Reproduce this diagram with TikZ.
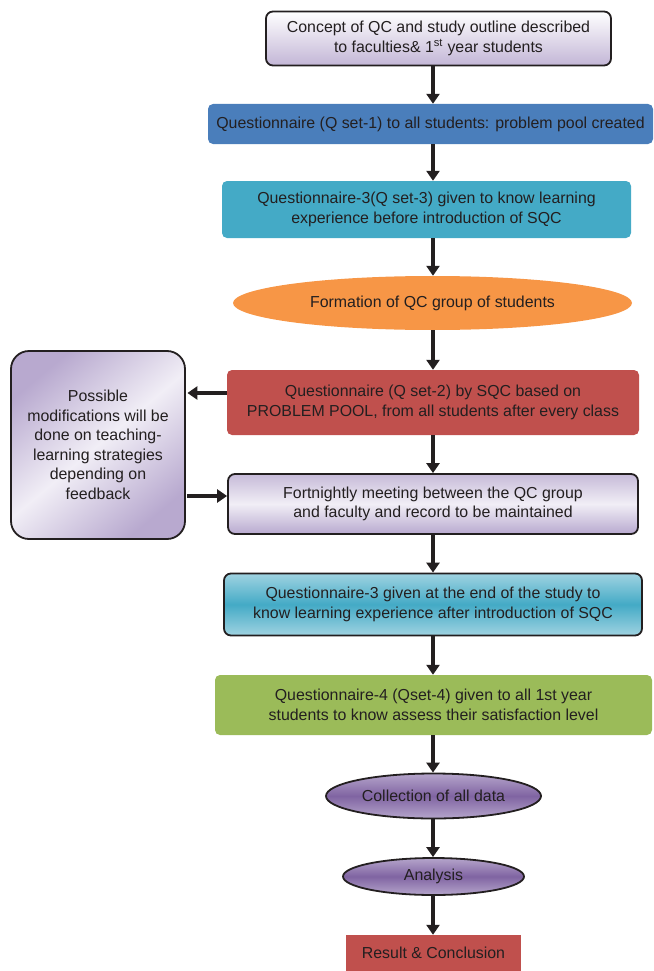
\documentclass[tikz,border=0pt]{standalone}
\usepackage{fontspec}
\setmainfont{Liberation Sans}
\usetikzlibrary{shapes.geometric,arrows.meta}
\definecolor{ink}{HTML}{231F20}
\definecolor{qblue}{HTML}{4A7EBB}
\definecolor{qcyan}{HTML}{44AAC6}
\definecolor{qcyanl}{HTML}{9FD3E1}
\definecolor{qorange}{HTML}{F79646}
\definecolor{qred}{HTML}{C0504D}
\definecolor{qgreen}{HTML}{9BBB59}
\definecolor{qpurple}{HTML}{8064A2}
\definecolor{qpurplel}{HTML}{B5A5CB}
\definecolor{lav}{HTML}{B8A9CF}
\definecolor{lavl}{HTML}{F1EEF6}
\begin{document}
\begin{tikzpicture}[x=1pt,y=-1pt,
  txt/.style={font=\fontsize{15.9}{19.5}\selectfont, text=ink, align=center, inner sep=0pt},
  rbox/.style={txt, rectangle, rounded corners=5pt},
  lbox/.style={rbox, draw=ink, line width=1.8pt, rounded corners=7pt},
  obox/.style={txt, ellipse},
  arr/.style={draw=ink, line width=4pt, -{Triangle[length=10pt,width=13pt]}},
]
\useasboundingbox (0,0) rectangle (653,971);
\node[lbox, minimum width=345pt, minimum height=54pt, top color=white, bottom color=lav!85] (n1) at (438.5,38.5)
  {Concept of QC and study outline described\\to faculties\& 1\textsuperscript{st} year students};
\node[rbox, fill=qblue, minimum width=445pt, minimum height=40pt] (n2) at (430.5,124)
  {Questionnaire (Q set-1) to all students: problem pool created};
\node[rbox, fill=qcyan, minimum width=409pt, minimum height=57pt] (n3) at (426.5,209.5)
  {Questionnaire-3(Q set-3) given to know learning\\experience before introduction of SQC};
\node[obox, fill=qorange, minimum width=399pt, minimum height=54pt] (n4) at (432.5,303)
  {Formation of QC group of students};
\node[rbox, fill=qred, minimum width=412pt, minimum height=65pt] (n5) at (433,402.5)
  {Questionnaire (Q set-2) by SQC based on\\PROBLEM POOL, from all students after every class};
\node[lbox, minimum width=410pt, minimum height=60pt, top color=lav!80, bottom color=lav, middle color=lavl] (n6) at (433,504)
  {Fortnightly meeting between the QC group\\and faculty and record to be maintained};
\node[lbox, rounded corners=18pt, minimum width=174pt, minimum height=188pt, top color=lav, bottom color=lav, middle color=lavl, shading angle=40] (n7) at (98,445)
  {Possible\\modifications will be\\done on teaching-\\learning strategies\\depending on\\feedback};
\node[lbox, minimum width=418pt, minimum height=62pt, top color=qcyanl, bottom color=qcyanl, middle color=qcyan] (n8) at (433,604.5)
  {Questionnaire-3 given at the end of the study to\\know learning experience after introduction of SQC};
\node[rbox, fill=qgreen, minimum width=437pt, minimum height=60pt] (n9) at (433.5,705)
  {Questionnaire-4 (Qset-4) given to all 1st year\\students to know assess their satisfaction level};
\node[obox, draw=ink, line width=1.8pt, minimum width=215pt, minimum height=45pt, top color=qpurplel, bottom color=qpurplel, middle color=qpurple] (n10) at (433.5,796)
  {Collection of all data};
\node[obox, draw=ink, line width=1.8pt, minimum width=181pt, minimum height=37pt, top color=qpurplel, bottom color=qpurplel, middle color=qpurple] (n11) at (433.5,876.5)
  {Analysis};
\node[txt, rectangle, fill=qred, minimum width=175pt, minimum height=36pt] (n12) at (433.5,953)
  {Result \& Conclusion};
\coordinate (X) at (433,0);
\coordinate (YL) at (0,393);
\coordinate (YR) at (0,496);
\draw[arr] (n1.south -| X) -- (n2.north -| X);
\draw[arr] (n2.south -| X) -- (n3.north -| X);
\draw[arr] (n3.south -| X) -- (n4.north -| X);
\draw[arr] (n4.south -| X) -- (n5.north -| X);
\draw[arr] (n5.south -| X) -- (n6.north -| X);
\draw[arr] (n6.south -| X) -- (n8.north -| X);
\draw[arr] (n8.south -| X) -- (n9.north -| X);
\draw[arr] (n9.south -| X) -- (n10.north -| X);
\draw[arr] (n10.south -| X) -- (n11.north -| X);
\draw[arr] (n11.south -| X) -- (n12.north -| X);
\draw[arr] (n5.west |- YL) -- ([xshift=1.5pt]n7.east |- YL);
\draw[arr] ([xshift=1pt]n7.east |- YR) -- (n6.west |- YR);
\end{tikzpicture}
\end{document}
